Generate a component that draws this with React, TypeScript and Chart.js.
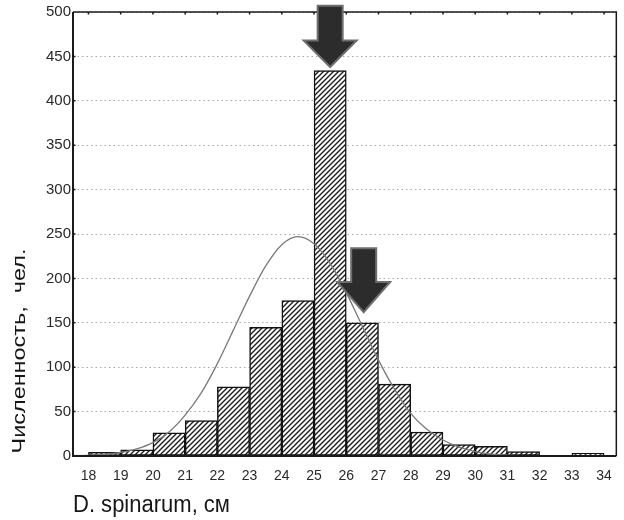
import React, { useEffect, useRef } from "react";
import { Chart, registerables } from "chart.js";

Chart.register(...registerables);

// Histogram bins (left edge of each 1-cm class) and counts
const binStarts = [17, 18, 19, 20, 21, 22, 23, 24, 25, 26, 27, 28, 29, 30, 31, 32, 33];
const counts = [1, 4, 7, 26, 40, 78, 145, 175, 434, 150, 81, 27, 13, 11, 5, 0, 3];

// Fitted normal curve
const fitX = [17.5, 18, 18.5, 19, 19.5, 20, 20.5, 21, 21.5, 22, 22.5, 23, 23.5, 24, 24.5, 25, 25.5, 26, 26.5, 27, 27.5, 28, 28.5, 29, 29.5, 30, 30.5, 31, 31.5, 32, 33, 34.4];
const fitY = [0.3, 0.8, 1.8, 4, 8, 15, 27, 46, 71, 104, 142, 180, 214, 238, 247, 239, 217, 184, 146, 108, 75, 48, 30, 18, 10, 5, 2, 1, 0.4, 0.1, 0, 0];

// Axis ticks
const xTicks = [18, 19, 20, 21, 22, 23, 24, 25, 26, 27, 28, 29, 30, 31, 32, 33, 34];
const xMin = 17.52;
const xMax = 34.38;
const yMax = 500;
const yStep = 50;

// Arrow annotations (x center, top, neck, tip in data units)
const arrowX = [25.5, 26.54];
const arrowTop = [507, 234];
const arrowNeck = [468, 196];
const arrowTip = [438, 162];

const yTitle = "Численность,  чел.";
const xTitle = "D. spinarum, см";

function makeHatch(): CanvasPattern | string {
  const c = document.createElement("canvas");
  const s = 5;
  c.width = s;
  c.height = s;
  const g = c.getContext("2d");
  if (!g) return "#999";
  g.fillStyle = "#ffffff";
  g.fillRect(0, 0, s, s);
  g.strokeStyle = "#1e1e1e";
  g.lineWidth = 1.4;
  g.beginPath();
  g.moveTo(0, s);
  g.lineTo(s, 0);
  g.moveTo(-1, 1);
  g.lineTo(1, -1);
  g.moveTo(s - 1, s + 1);
  g.lineTo(s + 1, s - 1);
  g.stroke();
  const p = g.createPattern(c, "repeat");
  return p || "#999";
}

const framePlugin = {
  id: "frameAndNotes",
  afterDraw(chart: any) {
    const { ctx, chartArea } = chart;
    const xs = chart.scales.x;
    const ys = chart.scales.y;
    const { left, right, top, bottom } = chartArea;
    ctx.save();
    // frame
    ctx.strokeStyle = "#1a1a1a";
    ctx.lineWidth = 1.5;
    ctx.beginPath();
    ctx.moveTo(left, top);
    ctx.lineTo(right, top);
    ctx.lineTo(right, bottom);
    ctx.stroke();
    ctx.lineWidth = 2;
    ctx.beginPath();
    ctx.moveTo(left, top);
    ctx.lineTo(left, bottom);
    ctx.lineTo(right, bottom);
    ctx.stroke();
    // small ticks on top and right
    ctx.lineWidth = 1.5;
    ctx.beginPath();
    xTicks.forEach((v) => {
      const px = xs.getPixelForValue(v);
      ctx.moveTo(px, top);
      ctx.lineTo(px, top + 2.5);
    });
    for (let v = yStep; v < yMax; v += yStep) {
      const py = ys.getPixelForValue(v);
      ctx.moveTo(right, py);
      ctx.lineTo(right - 2.5, py);
      ctx.moveTo(left, py);
      ctx.lineTo(left + 2.5, py);
    }
    ctx.stroke();

    // arrows
    arrowX.forEach((ax, i) => {
      const cx = xs.getPixelForValue(ax);
      const yT = ys.getPixelForValue(arrowTop[i]);
      const yN = ys.getPixelForValue(arrowNeck[i]);
      const yP = ys.getPixelForValue(arrowTip[i]);
      const sw = 12.5;
      const hw = 26.5;
      ctx.beginPath();
      ctx.moveTo(cx - sw, yT);
      ctx.lineTo(cx + sw, yT);
      ctx.lineTo(cx + sw, yN);
      ctx.lineTo(cx + hw, yN);
      ctx.lineTo(cx, yP);
      ctx.lineTo(cx - hw, yN);
      ctx.lineTo(cx - sw, yN);
      ctx.closePath();
      ctx.fillStyle = "#2c2c2c";
      ctx.fill();
      ctx.lineJoin = "miter";
      ctx.strokeStyle = "#6e6e6e";
      ctx.lineWidth = 2;
      ctx.stroke();
    });

    // axis titles
    ctx.fillStyle = "#161616";
    ctx.font = '20px "Liberation Sans", Arial, sans-serif';
    ctx.save();
    ctx.translate(20, 351);
    ctx.rotate(-Math.PI / 2);
    const wy = ctx.measureText(yTitle).width;
    ctx.scale(205 / wy, 0.9);
    ctx.textAlign = "center";
    ctx.textBaseline = "middle";
    ctx.fillText(yTitle, 0, 0);
    ctx.restore();

    ctx.save();
    ctx.font = '23px "Liberation Sans", Arial, sans-serif';
    const wx = ctx.measureText(xTitle).width;
    ctx.translate(73, 512);
    ctx.scale(157 / wx, 1);
    ctx.textAlign = "left";
    ctx.textBaseline = "alphabetic";
    ctx.fillText(xTitle, 0, 0);
    ctx.restore();

    ctx.restore();
  },
};

export default function App() {
  const ref = useRef<HTMLCanvasElement | null>(null);

  useEffect(() => {
    const canvas = ref.current;
    if (!canvas) return;
    const hatch = makeHatch();
    const chart = new Chart(canvas, {
      type: "bar",
      data: {
        datasets: [
          {
            type: "line",
            data: fitX.map((x, i) => ({ x, y: fitY[i] })),
            borderColor: "#7a7a7a",
            borderWidth: 1.3,
            pointRadius: 0,
            cubicInterpolationMode: "monotone",
            fill: false,
            order: 0,
          } as any,
          {
            type: "bar",
            data: binStarts.map((b, i) => ({ x: b + 0.5, y: counts[i] })),
            backgroundColor: hatch as any,
            borderColor: "#111111",
            borderWidth: 1.5,
            borderSkipped: false,
            barPercentage: 1,
            categoryPercentage: 1,
            order: 1,
          } as any,
        ],
      },
      options: {
        responsive: false,
        devicePixelRatio: 1,
        animation: false,
        layout: { padding: { top: 12, right: 6, left: 0, bottom: 0 } },
        plugins: { legend: { display: false }, tooltip: { enabled: false } },
        scales: {
          x: {
            type: "linear",
            min: xMin,
            max: xMax,
            offset: false,
            grid: { display: false, drawTicks: false },
            border: { display: false },
            afterBuildTicks: (axis: any) => {
              axis.ticks = xTicks.map((v) => ({ value: v }));
            },
            afterFit: (scale: any) => {
              scale.height = 64;
            },
            ticks: {
              autoSkip: false,
              maxRotation: 0,
              padding: 12,
              color: "#2a2a2a",
              font: { family: '"Liberation Sans", Arial, sans-serif', size: 14 },
            },
          },
          y: {
            type: "linear",
            min: 0,
            max: yMax,
            grid: { color: "#a8a8a8", lineWidth: 1, drawTicks: false },
            border: { display: false, dash: [1.5, 3] },
            afterFit: (scale: any) => {
              scale.width = 73;
            },
            ticks: {
              stepSize: yStep,
              padding: 2,
              color: "#2a2a2a",
              font: { family: '"Liberation Sans", Arial, sans-serif', size: 15 },
            },
          },
        },
      },
      plugins: [framePlugin],
    } as any);
    return () => chart.destroy();
  }, []);

  return (
    <div style={{ position: "fixed", left: 0, top: 0, width: 624, height: 520, background: "#fff" }}>
      <canvas ref={ref} width={624} height={520} style={{ display: "block" }} />
    </div>
  );
}
